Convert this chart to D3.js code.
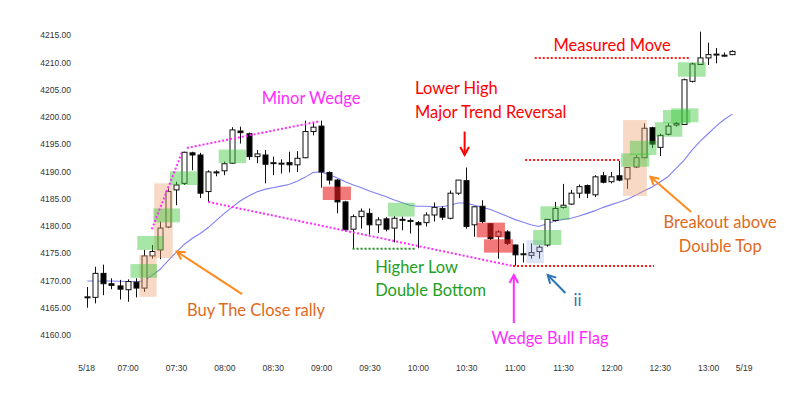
<!DOCTYPE html>
<html>
<head>
  <meta charset="utf-8">
  <script src="https://d3js.org/d3.v7.min.js"></script>
  <style>
    body { margin: 0; background: #fff; }
    svg text { font-family: Lato, "Open Sans", sans-serif; }
    .axis text { font-family: "Liberation Sans", Arial, sans-serif; font-size: 8.5px; fill: #333; }
  </style>
</head>
<body>
  <svg id="chart"></svg>
  <script>
    // 5 minute bars, 06:35 .. 13:15
    let opens  = [4166.9,4166.9,4171.3,4169.4,4169.0,4168.3,4169.7,4168.6,4174.5,4175.6,
                  4179.8,4186.6,4187.8,4193.4,4193.0,4186.3,4189.9,4190.1,4191.5,4197.4,
                  4196.9,4192.7,4193.0,4191.6,4191.5,4191.6,4191.2,4192.5,4197.3,4198.3,
                  4189.8,4188.4,4184.4,4179.4,4181.7,4182.3,4180.2,4181.3,4179.6,4181.2,
                  4181.0,4180.6,4180.6,4182.0,4183.2,4181.4,4186.0,4188.3,4180.2,4183.6,
                  4180.4,4178.1,4178.9,4176.5,4174.8,4174.6,4175.3,4176.5,4181.0,4183.4,
                  4184.0,4186.0,4187.4,4185.7,4189.2,4188.1,4189.2,4188.6,4190.8,4192.5,
                  4198.0,4194.4,4196.8,4198.5,4198.6,4206.5,4209.6,4210.8,4211.4,4211.2,4211.4];
    let highs  = [4168.8,4172.5,4172.9,4170.4,4170.1,4170.2,4170.4,4175.6,4176.5,4180.8,
                  4186.9,4188.1,4193.6,4193.6,4193.4,4190.2,4190.2,4191.8,4198.1,4198.2,
                  4197.1,4193.9,4193.9,4192.7,4192.2,4193.6,4193.7,4199.3,4198.9,4199.3,
                  4190.0,4188.6,4184.6,4182.1,4183.2,4183.2,4181.6,4181.6,4181.8,4181.7,
                  4181.4,4180.9,4182.5,4184.3,4183.6,4186.5,4188.4,4190.7,4183.6,4184.7,
                  4180.5,4179.2,4179.2,4176.6,4176.8,4176.8,4176.5,4181.2,4184.4,4187.7,
                  4186.6,4187.6,4187.6,4189.3,4189.9,4189.9,4191.9,4190.8,4193.0,4198.8,
                  4198.2,4196.9,4198.8,4199.1,4207.0,4209.9,4215.6,4213.6,4212.6,4211.8,4212.2];
    let lows   = [4165.0,4165.8,4167.3,4168.4,4166.5,4166.1,4166.9,4167.9,4174.0,4173.9,
                  4179.6,4183.8,4187.5,4190.2,4185.1,4184.4,4189.1,4189.3,4191.4,4195.1,
                  4192.1,4191.5,4187.8,4189.3,4189.6,4189.8,4189.9,4192.4,4196.6,4187.0,
                  4187.6,4182.3,4179.0,4175.8,4179.5,4178.4,4178.7,4179.0,4177.0,4179.2,
                  4178.6,4175.9,4179.9,4180.8,4181.1,4181.2,4185.7,4179.5,4178.0,4180.5,
                  4177.4,4174.0,4176.5,4172.7,4173.3,4174.0,4174.0,4176.2,4180.8,4183.2,
                  4183.8,4185.1,4185.1,4185.3,4187.8,4187.8,4188.2,4186.8,4190.6,4192.4,
                  4194.3,4192.8,4196.6,4198.2,4198.5,4206.3,4209.5,4209.5,4209.8,4211.0,4211.3];
    let closes = [4167.0,4171.3,4169.4,4169.1,4168.4,4169.8,4168.6,4174.5,4175.3,4179.6,
                  4186.3,4187.5,4193.5,4193.0,4186.0,4189.9,4189.8,4191.4,4197.6,4197.1,
                  4192.7,4193.2,4191.3,4191.6,4191.5,4191.2,4192.4,4197.3,4198.1,4189.9,
                  4188.4,4184.4,4179.3,4181.7,4182.7,4180.2,4181.1,4179.4,4181.4,4181.1,
                  4181.0,4180.2,4182.0,4183.4,4181.6,4186.0,4188.4,4179.9,4183.5,4180.8,
                  4177.7,4178.9,4176.8,4174.7,4174.9,4175.1,4176.1,4181.2,4183.2,4183.8,
                  4186.0,4187.2,4186.0,4189.0,4188.0,4189.0,4188.4,4190.7,4192.5,4197.9,
                  4195.0,4196.6,4198.3,4198.8,4206.8,4209.7,4210.8,4211.4,4211.5,4211.3,4212.0];
    // moving average, one value per bar
    let average = [4169.9,4169.9,4169.9,4169.9,4169.85,4169.8,4169.75,4169.9,4170.9,4172.0,
                   4173.6,4175.1,4176.6,4177.7,4178.6,4179.7,4181.0,4182.3,4183.5,4184.6,
                   4185.5,4186.2,4186.7,4187.0,4187.3,4187.6,4188.2,4188.9,4189.8,4189.9,
                   4189.4,4188.8,4188.1,4187.5,4187.0,4186.4,4185.9,4185.4,4184.8,4184.3,
                   4183.8,4183.6,4183.6,4183.5,4183.5,4183.8,4184.2,4184.2,4183.8,4183.4,
                   4183.0,4182.4,4181.8,4181.2,4180.7,4180.2,4179.9,4180.4,4180.9,4181.2,
                   4181.4,4181.8,4182.3,4182.8,4183.4,4183.9,4184.4,4184.9,4185.6,4186.4,
                   4187.1,4188.0,4189.0,4190.5,4192.0,4193.9,4195.5,4196.9,4198.3,4199.5,4200.5];

    let priceTicks = [4160, 4165, 4170, 4175, 4180, 4185, 4190, 4195, 4200, 4205, 4210, 4215];
    let timeLabels = ["5/18","07:00","07:30","08:00","08:30","09:00","09:30","10:00",
                      "10:30","11:00","11:30","12:00","12:30","13:00","5/19"];
    let timeBars   = [-0.15, 5, 11, 17, 23, 29, 35, 41, 47, 53, 59, 65, 71, 77, 81.4];

    // highlight boxes: [first bar, last bar, top price, bottom price]
    let greenBoxes = [[5.35,8.65,4173.0,4170.5],[6.2,9.5,4178.15,4175.6],[8.2,11.5,4183.2,4180.65],
                      [10.25,13.7,4190.0,4187.5],[16.3,19.7,4194.0,4191.5],[37.3,40.6,4184.25,4181.7],
                      [55.3,58.8,4179.25,4176.5],[56.2,59.8,4183.6,4181.1],[66.2,69.7,4193.3,4190.85],
                      [67.3,70.6,4195.6,4193.0],[70.4,73.8,4199.0,4196.35],[71.4,74.8,4201.25,4198.8],
                      [72.4,75.8,4201.55,4199.0],[73.25,76.7,4210.0,4207.35]];
    let redBoxes   = [[29.2,32.7,4187.2,4184.75],[48.3,51.8,4180.6,4177.9],[49.2,52.8,4177.55,4175.1]];
    let tanBoxes   = [[6.45,8.6,4174.65,4167.0],[8.3,10.6,4187.8,4174.1],[66.45,69.4,4199.4,4185.5]];
    let blueBoxes  = [[54.45,56.65,4177.4,4173.15]];

    // dotted lines: [bar, price, bar, price]
    let wedgeLines = [[8.0,4179.4,11.75,4193.5],[12.35,4194.3,28.85,4199.2],[15.0,4184.4,52.8,4172.65]];
    let redLines   = [[52.8,4172.65,70.3,4172.65],[54.3,4192.1,66.0,4192.1],[55.5,4210.8,74.7,4210.8]];
    let greenLines = [[32.9,4175.8,40.6,4175.8]];

    // arrows: [tail bar, tail price, head bar, head price, colour]
    let arrows = [[19.2,4167.5,11.1,4175.3,"#ff8a1c"],[74.9,4182.55,69.85,4189.0,"#ff8a1c"],
                  [52.9,4162.2,52.9,4171.0,"#ff2bff"],[59.3,4167.7,57.1,4171.0,"#2e75b6"],
                  [46.8,4197.3,46.8,4193.0,"#ff0000"]];

    // labels: [text, bar, price (baseline), anchor, colour]
    let labels = [["Minor Wedge",27.75,4202.35,"middle","#ff2bff"],
                  ["Lower High",40.65,4204.2,"start","#ff0000"],
                  ["Major Trend Reversal",40.65,4199.8,"start","#ff0000"],
                  ["Measured Move",65.1,4212.1,"middle","#ff0000"],
                  ["Higher Low",35.7,4171.4,"start","#22a022"],
                  ["Double Bottom",35.7,4167.15,"start","#22a022"],
                  ["Buy The Close rally",12.37,4163.5,"start","#e0691c"],
                  ["Wedge Bull Flag",57.4,4158.35,"middle","#ff2bff"],
                  ["ii",60.3,4165.3,"start","#2e75b6"],
                  ["Breakout above",78.5,4179.6,"middle","#e0691c"],
                  ["Double Top",78.5,4175.2,"middle","#e0691c"]];

    let width = 796, height = 395;
    let svg = d3.select("#chart").attr("width", width).attr("height", height);

    let x = d3.scaleLinear().domain([0, 80]).range([87.3, 732.3]);
    let y = d3.scaleLinear().domain([4160, 4215]).range([335, 35]);

    // axes
    svg.append("g").attr("class", "axis").attr("transform", "translate(71,0)")
      .call(d3.axisLeft(y).tickValues(priceTicks).tickFormat(d3.format(".2f")).tickSize(0).tickPadding(0))
      .call(g => g.select(".domain").remove());

    svg.append("g").attr("class", "axis").attr("transform", "translate(0,362)")
      .call(d3.axisBottom(x).tickValues(timeBars).tickFormat((d, i) => timeLabels[i]).tickSize(0).tickPadding(3))
      .call(g => g.select(".domain").remove());

    // moving average
    svg.append("path")
      .datum(average)
      .attr("fill", "none")
      .attr("stroke", "#8080f4")
      .attr("stroke-width", 1.1)
      .attr("d", d3.line().x((d, i) => x(i)).y(d => y(d)));

    // candles
    let bars = d3.range(opens.length);
    let cx = i => Math.round(x(i)) + 0.5;

    svg.append("g").selectAll("line")
      .data(bars).join("line")
      .attr("x1", cx).attr("x2", cx)
      .attr("y1", i => y(highs[i])).attr("y2", i => y(lows[i]))
      .attr("stroke", "#111").attr("stroke-width", 1);

    svg.append("g").selectAll("rect")
      .data(bars).join("rect")
      .attr("x", i => cx(i) - 2.5)
      .attr("width", 5)
      .attr("y", i => y(Math.max(opens[i], closes[i])))
      .attr("height", i => Math.max(1, Math.abs(y(opens[i]) - y(closes[i]))))
      .attr("fill", i => closes[i] >= opens[i] ? "#fff" : "#000")
      .attr("stroke", "#111").attr("stroke-width", 1);

    // highlight boxes
    let drawBoxes = (data, fill, op) => {
      svg.append("g").selectAll("rect")
        .data(data).join("rect")
        .attr("x", d => x(d[0]))
        .attr("width", d => x(d[1]) - x(d[0]))
        .attr("y", d => y(d[2]))
        .attr("height", d => y(d[3]) - y(d[2]))
        .attr("fill", fill).attr("opacity", op);
    };
    drawBoxes(tanBoxes, "#eba070", 0.4);
    drawBoxes(blueBoxes, "#a0b4e6", 0.35);
    drawBoxes(greenBoxes, "#3cc83c", 0.45);
    drawBoxes(redBoxes, "#e82020", 0.6);

    // dotted lines
    let drawDots = (data, colour) => {
      svg.append("g").selectAll("line")
        .data(data).join("line")
        .attr("x1", d => x(d[0])).attr("y1", d => y(d[1]))
        .attr("x2", d => x(d[2])).attr("y2", d => y(d[3]))
        .attr("stroke", colour).attr("stroke-width", 2)
        .attr("stroke-dasharray", "2,2");
    };
    drawDots(wedgeLines, "#ff2bff");
    drawDots(redLines, "#ff1a1a");
    drawDots(greenLines, "#1f8f1f");

    // arrows with open heads
    arrows.forEach(a => {
      let x1 = x(a[0]), y1 = y(a[1]), x2 = x(a[2]), y2 = y(a[3]);
      let ang = Math.atan2(y2 - y1, x2 - x1), len = 9, spread = 0.5;
      let g = svg.append("g").attr("stroke", a[4]).attr("stroke-width", 2).attr("fill", "none");
      g.append("line").attr("x1", x1).attr("y1", y1).attr("x2", x2).attr("y2", y2);
      g.append("path")
        .attr("stroke-linejoin", "miter")
        .attr("d", "M" + (x2 - len * Math.cos(ang - spread)) + "," + (y2 - len * Math.sin(ang - spread)) +
                   "L" + x2 + "," + y2 +
                   "L" + (x2 - len * Math.cos(ang + spread)) + "," + (y2 - len * Math.sin(ang + spread)));
    });

    // text
    svg.append("g").selectAll("text")
      .data(labels).join("text")
      .attr("x", d => x(d[1]))
      .attr("y", d => y(d[2]))
      .attr("text-anchor", d => d[3])
      .attr("fill", d => d[4])
      .attr("font-size", 16.5)
      .text(d => d[0]);
  </script>
</body>
</html>
